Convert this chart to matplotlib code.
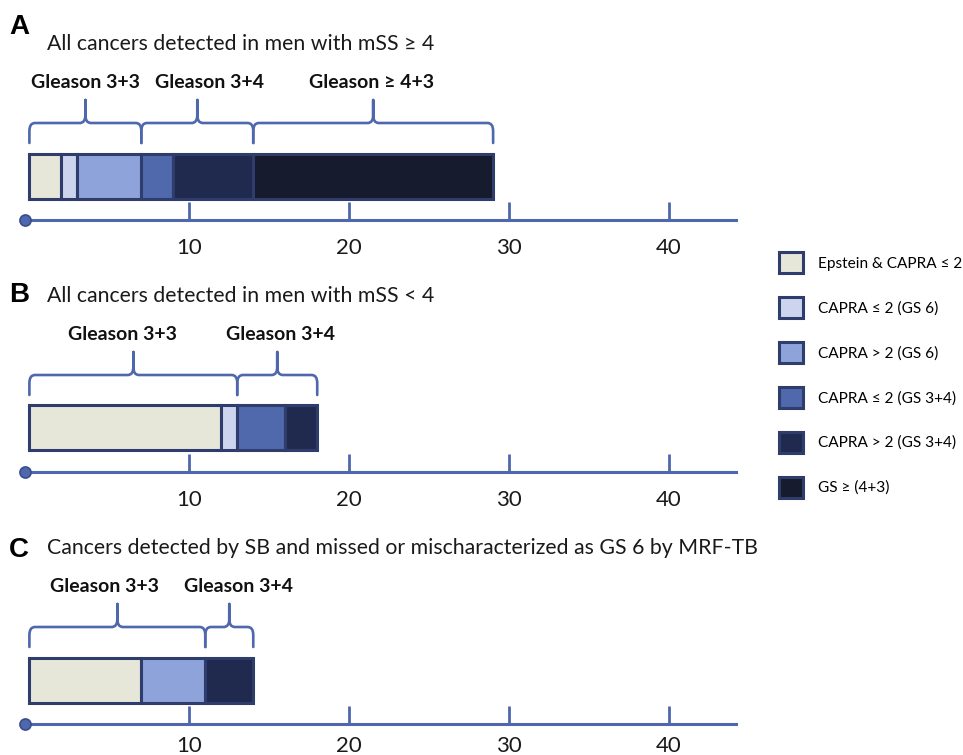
import matplotlib.pyplot as plt
from matplotlib.patches import Patch, PathPatch
from matplotlib.path import Path
import numpy as np

plt.rcParams['font.family'] = ['Lato', 'DejaVu Sans']

categories = ['Epstein & CAPRA ≤ 2', 'CAPRA ≤ 2 (GS 6)', 'CAPRA > 2 (GS 6)',
              'CAPRA ≤ 2 (GS 3+4)', 'CAPRA > 2 (GS 3+4)', 'GS ≥ (4+3)']
colors = ['#E6E6D9', '#CDD5EE', '#8EA3D9', '#5068AC', '#1F2A4E', '#161B2E']
group_of_cat = [0, 0, 0, 1, 1, 2]
group_names = ['Gleason 3+3', 'Gleason 3+4', 'Gleason ≥ 4+3']

# counts per category, one list per panel
counts_a = [2, 1, 4, 2, 5, 15]
counts_b = [12, 1, 0, 3, 2, 0]
counts_c = [7, 0, 4, 0, 3, 0]

letters = ['A', 'B', 'C']
titles = ['All cancers detected in men with mSS ≥ 4',
          'All cancers detected in men with mSS < 4',
          'Cancers detected by SB and missed or mischaracterized as GS 6 by MRF-TB']
ticks = [10, 20, 30, 40]

blue = '#4E67AD'
edge = '#2F3D6C'
W, H = 963, 755
x0_px, ppu = 29.4, 15.99

# layout per panel: top/bottom px, letter y, tick-label pad, label nudges (px)
panels = [(0, 220, 193, 13, [0, 12, -2]),
          (260, 472, 177, 13, [-11, 3]),
          (540, 724, 174, 9, [-13, 9])]


def brace(ax, x0, x1, yb=77, yh=97, yt=120, r=0.35, ry=8):
    xm = (x0 + x1) / 2
    verts = [(x0, yb), (x0, yh - ry), (x0, yh), (x0 + r, yh), (xm - r, yh),
             (xm, yh), (xm, yh + ry), (xm, yt),
             (xm, yt), (xm, yh + ry), (xm, yh), (xm + r, yh), (x1 - r, yh),
             (x1, yh), (x1, yh - ry), (x1, yb)]
    codes = [Path.MOVETO, Path.LINETO, Path.CURVE3, Path.CURVE3, Path.LINETO,
             Path.CURVE3, Path.CURVE3, Path.LINETO,
             Path.MOVETO, Path.LINETO, Path.CURVE3, Path.CURVE3, Path.LINETO,
             Path.CURVE3, Path.CURVE3, Path.LINETO]
    ax.add_patch(PathPatch(Path(verts, codes), fill=False, edgecolor=blue,
                           lw=1.9, capstyle='round', joinstyle='round'))


fig = plt.figure(figsize=(W / 100, H / 100), dpi=100)

for (top, bot, ly, pad, nudge), counts, letter, title in zip(
        panels, [counts_a, counts_b, counts_c], letters, titles):
    ax = fig.add_axes([0, 1 - bot / H, 740 / W, (bot - top) / H])
    ax.set_xlim(-x0_px / ppu, (740 - x0_px) / ppu)
    ax.set_ylim(0, bot - top)
    ax.patch.set_visible(False)
    for s in ['top', 'left', 'right']:
        ax.spines[s].set_visible(False)
    ax.spines['bottom'].set_color(blue)
    ax.spines['bottom'].set_linewidth(2.2)
    ax.spines['bottom'].set_bounds(-0.3, 44.2)
    ax.set_yticks([])
    ax.set_xticks(ticks)
    ax.tick_params(axis='x', direction='in', length=13, width=2, color=blue,
                   labelsize=16, pad=pad, labelcolor='#1a1a1a')
    ax.plot([-0.3], [0], 'o', ms=8, color=blue, mec='#3A4E8C', mew=1.2,
            clip_on=False, zorder=5)

    counts = np.array(counts)
    lefts = np.concatenate([[0], np.cumsum(counts)[:-1]])
    keep = counts > 0
    ax.barh(44, counts[keep], left=lefts[keep], height=45,
            color=np.array(colors)[keep], edgecolor=edge, linewidth=2.2)

    k = 0
    for g, name in enumerate(group_names):
        idx = [i for i in range(len(counts)) if group_of_cat[i] == g]
        tot = counts[idx].sum()
        if tot == 0:
            continue
        start = lefts[idx[0]]
        brace(ax, start, start + tot)
        ax.text(start + tot / 2 + nudge[k] / ppu, 138, name, ha='center', va='center',
                fontsize=14, fontweight='bold', color='#111111')
        k += 1

    ax.text((9 - x0_px) / ppu, ly, letter, ha='left', va='center',
            fontsize=20, fontweight='bold', family=['Liberation Sans'], color='black')
    ax.text((47 - x0_px) / ppu, 176, title, ha='left', va='center',
            fontsize=15.3, color='#1a1a1a')

handles = [Patch(facecolor=c, edgecolor=edge, lw=2.2) for c in colors]
fig.legend(handles, categories, loc='upper left',
           bbox_to_anchor=(779 / W, 1 - 252 / H), frameon=False,
           fontsize=11.1, handlelength=1.56, handleheight=1.72,
           labelspacing=1.55, handletextpad=0.97, borderpad=0,
           borderaxespad=0)

fig.savefig('out.png', dpi=100)
